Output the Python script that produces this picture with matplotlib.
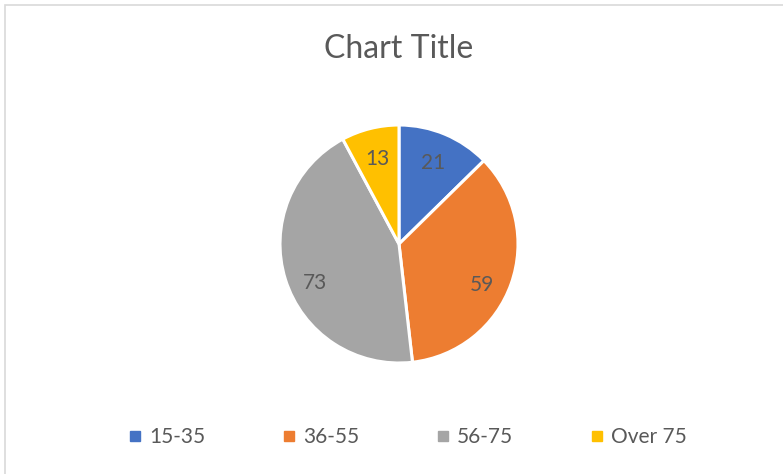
import matplotlib.pyplot as plt
from matplotlib.lines import Line2D
from matplotlib.patches import Rectangle

labels = ['15-35', '36-55', '56-75', 'Over 75']
values = [21, 59, 73, 13]
colors = ['#4472C4', '#ED7D31', '#A5A5A5', '#FFC000']

plt.rcParams['font.family'] = ['Lato', 'DejaVu Sans']
text_color = '#595959'

W, H = 783, 474
fig = plt.figure(figsize=(W / 100, H / 100), dpi=100)

# light grey chart-area border
fig.patches.append(Rectangle((5 / W, -0.01), 1.1, (H - 5) / H + 0.01, transform=fig.transFigure,
                             fill=False, edgecolor='#D9D9D9', linewidth=1.2))

cx, cy, r = 399, 244, 119
ax = fig.add_axes([(cx - r) / W, (H - cy - r) / H, 2 * r / W, 2 * r / H])
wedges, texts, autotexts = ax.pie(values, colors=colors, startangle=90, counterclock=False,
                                  autopct=lambda p: '%d' % round(p * sum(values) / 100),
                                  pctdistance=0.74, radius=1,
                                  wedgeprops=dict(edgecolor='white', linewidth=2.2),
                                  textprops=dict(color=text_color, fontsize=15))
# Excel's best-fit labels for the two big slices sit a bit lower
for t, dy in zip(autotexts, [0.0, -0.1, -0.11, 0.0]):
    x, y = t.get_position()
    t.set_position((x, y + dy))
ax.set_xlim(-1, 1)
ax.set_ylim(-1, 1)

fig.text(cx / W, 1 - 49 / H, 'Chart Title', ha='center', va='center',
         fontsize=23, color=text_color)

handles = [Line2D([], [], marker='s', linestyle='', markersize=6.5,
                  markerfacecolor=c, markeredgecolor=c) for c in colors]
fig.legend(handles, labels, loc='center', bbox_to_anchor=(cx / W + 0.012, 1 - 437 / H), ncol=4,
           frameon=False, fontsize=15, labelcolor=text_color, handlelength=0.5,
           handletextpad=0.4, columnspacing=3.8)

fig.savefig('out.png', dpi=100)
